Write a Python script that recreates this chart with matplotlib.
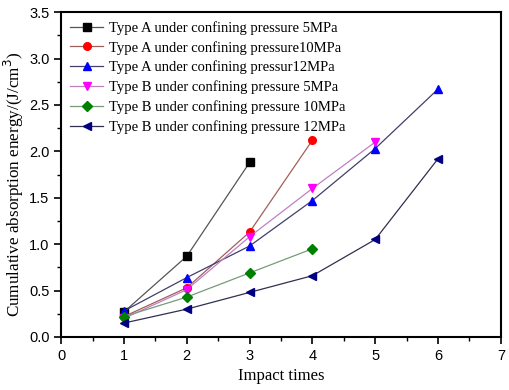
import matplotlib
matplotlib.use("Agg")
import matplotlib.pyplot as plt
from matplotlib.ticker import MultipleLocator

# impact times and cumulative absorption energy (J/cm^3)
x_a5 = [1, 2, 3]
y_a5 = [0.27, 0.87, 1.88]
x_a10 = [1, 2, 3, 4]
y_a10 = [0.22, 0.53, 1.13, 2.12]
x_a12 = [1, 2, 3, 4, 5, 6]
y_a12 = [0.28, 0.64, 0.98, 1.47, 2.03, 2.67]
x_b5 = [1, 2, 3, 4, 5]
y_b5 = [0.20, 0.51, 1.08, 1.60, 2.10]
x_b10 = [1, 2, 3, 4]
y_b10 = [0.22, 0.43, 0.69, 0.95]
x_b12 = [1, 2, 3, 4, 5, 6]
y_b12 = [0.15, 0.30, 0.48, 0.66, 1.05, 1.92]

labels = [
    "Type A under confining pressure 5MPa",
    "Type A under confining pressure10MPa",
    "Type A under confining pressur12MPa",
    "Type B under confining pressure 5MPa",
    "Type B under confining pressure 10MPa",
    "Type B under confining pressure 12MPa",
]

series = [
    (x_a5, y_a5, "s", "black", "#555555"),
    (x_a10, y_a10, "o", "red", "#a0605a"),
    (x_a12, y_a12, "^", "blue", "#40406a"),
    (x_b5, y_b5, "v", "magenta", "#c080c0"),
    (x_b10, y_b10, "D", "green", "#7a9a7a"),
    (x_b12, y_b12, "<", "navy", "#303050"),
]

fig, ax = plt.subplots(figsize=(5.1, 3.9), dpi=100)
fig.subplots_adjust(left=0.12, right=0.982, bottom=0.136, top=0.969)

for (xs, ys, m, mc, lc), lab in zip(series, labels):
    ms = 5.5 if m != "D" else 4.8
    ax.plot(xs, ys, marker=m, markersize=ms, color=lc, markerfacecolor=mc,
            markeredgecolor=mc, linewidth=0.9, label=lab)

ax.set_xlim(0, 7)
ax.set_ylim(0, 3.5)
ax.xaxis.set_major_locator(MultipleLocator(1))
ax.xaxis.set_minor_locator(MultipleLocator(0.5))
ax.yaxis.set_major_locator(MultipleLocator(0.5))
ax.yaxis.set_minor_locator(MultipleLocator(0.25))
ax.yaxis.set_major_formatter(matplotlib.ticker.FormatStrFormatter("%.1f"))
ax.tick_params(which="major", direction="out", length=5, width=1.2, labelsize=10.5)
ax.tick_params(which="minor", direction="out", length=3, width=1)
for lbl in ax.get_xticklabels() + ax.get_yticklabels():
    lbl.set_fontfamily("Liberation Sans")
for sp in ax.spines.values():
    sp.set_linewidth(1.5)

ax.set_xlabel("Impact times", fontfamily="Liberation Serif", fontsize=12)
ax.set_ylabel("Cumulative absorption energy/(J/cm$^3$)", fontfamily="Liberation Serif",
              fontsize=12.3)
ax.yaxis.set_label_coords(-0.08, 0.47)

ax.legend(loc="upper left", frameon=False, prop={"family": "Liberation Serif", "size": 10.5},
          handlelength=2.3, handletextpad=0.4, labelspacing=0.42, borderaxespad=0.2)

plt.savefig("out.png", dpi=100)
